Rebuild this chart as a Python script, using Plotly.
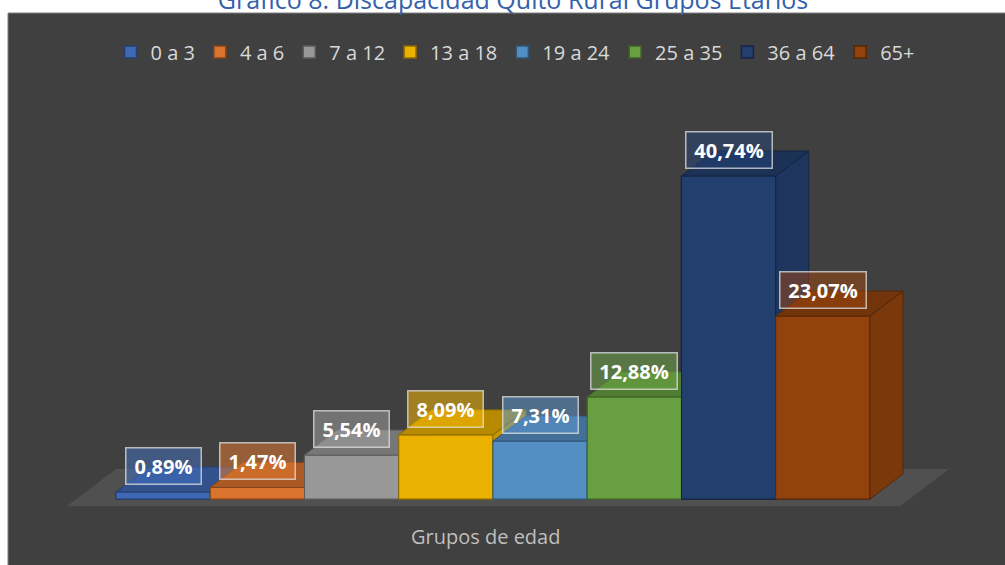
import plotly.graph_objects as go

# ---- data ----
categories = ["0 a 3", "4 a 6", "7 a 12", "13 a 18", "19 a 24", "25 a 35", "36 a 64", "65+"]
values = [0.89, 1.47, 5.54, 8.09, 7.31, 12.88, 40.74, 23.07]
label_texts = ["0,89%", "1,47%", "5,54%", "8,09%", "7,31%", "12,88%", "40,74%", "23,07%"]

# ---- styles ----
base_rgb = [(68, 114, 196), (237, 125, 49), (165, 165, 165), (255, 192, 0),
            (91, 155, 213), (112, 173, 71), (38, 68, 120), (158, 72, 14)]


def shade(rgb, k):
    return "rgb(%d,%d,%d)" % tuple(max(0, min(255, round(c * k))) for c in rgb)


def rgba(rgb, a):
    return "rgba(%d,%d,%d,%.2f)" % (rgb[0], rgb[1], rgb[2], a)


W, H = 1005, 565
BG = "#404040"
DX, DY = 0.35, 3.15          # oblique depth offset (x units, y units)
XR = [-1.731, 8.933]
YR = [-8.32, 62.93]

fig = go.Figure()

# floor (decorative)
t0, t1, ext = -0.28, 1.2, 0.42
fx0, fx1 = -0.5 - ext, len(values) - 0.5 + ext
floor_path = "M{},{} L{},{} L{},{} L{},{} Z".format(
    fx0 + t0 * DX, t0 * DY, fx1 + t0 * DX, t0 * DY,
    fx1 + t1 * DX, t1 * DY, fx0 + t1 * DX, t1 * DY)

# front faces as bars (provide legend)
for i, (cat, v) in enumerate(zip(categories, values)):
    fig.add_trace(go.Bar(
        x=[i], y=[v], width=1, name=cat,
        marker=dict(color=shade(base_rgb[i], 0.92), line=dict(color=shade(base_rgb[i], 0.55), width=1.5)),
        hoverinfo="skip"))

# 3D faces drawn in painter order
for i, v in enumerate(values):
    L, R = i - 0.5, i + 0.5
    edge = shade(base_rgb[i], 0.55)
    faces = [
        ([L, R, R, L, L], [0, 0, v, v, 0], shade(base_rgb[i], 0.92)),
        ([R, R + DX, R + DX, R, R], [0, DY, v + DY, v, 0], shade(base_rgb[i], 0.78)),
        ([L, R, R + DX, L + DX, L], [v, v, v + DY, v + DY, v], shade(base_rgb[i], 0.72)),
    ]
    for xs, ys, col in faces:
        fig.add_trace(go.Scatter(
            x=xs, y=ys, mode="lines", fill="toself", fillcolor=col,
            line=dict(color=edge, width=1), showlegend=False, hoverinfo="skip"))

# data labels
char_w = {",": 5.8, "%": 18.0}
for i, (v, txt) in enumerate(zip(values, label_texts)):
    tw = sum(char_w.get(c, 11.4) for c in txt)
    fig.add_annotation(
        x=i, y=v, xref="x", yref="y", yshift=26, showarrow=False,
        xanchor="center", yanchor="middle",
        text="<b>%s</b>" % txt, width=round(tw + 8),
        font=dict(family="Open Sans", size=20, color="white"),
        bgcolor=rgba(base_rgb[i], 0.5), bordercolor="rgba(225,225,225,0.75)",
        borderwidth=1.5, borderpad=4)

# axis title
fig.add_annotation(
    x=485 / W, y=1 - 536 / H, xref="paper", yref="paper", showarrow=False,
    xanchor="center", yanchor="middle",
    text="Grupos de edad", font=dict(family="Open Sans", size=20, color="#BFBFBF"))

fig.update_layout(
    width=W, height=H,
    margin=dict(l=0, r=0, t=0, b=0),
    paper_bgcolor="white", plot_bgcolor="rgba(0,0,0,0)",
    barmode="overlay",
    title=dict(text="Gráfico 8. Discapacidad Quito Rural Grupos Etarios",
               x=513 / W, xanchor="center", y=1.0, yanchor="middle", yref="container",
               font=dict(family="Open Sans", size=25, color="#3461AB")),
    xaxis=dict(range=XR, visible=False, fixedrange=True),
    yaxis=dict(range=YR, visible=False, fixedrange=True),
    legend=dict(orientation="h", x=515 / W, xanchor="center", y=1 - 52 / H, yanchor="middle",
                font=dict(family="Open Sans", size=20, color="#D9D9D9"),
                bgcolor="rgba(0,0,0,0)", itemwidth=30, traceorder="normal"),
    shapes=[
        dict(type="rect", xref="paper", yref="paper", x0=8 / W, x1=1.01, y0=-0.01, y1=1 - 13 / H,
             fillcolor=BG, line=dict(color="#7F7F7F", width=1), layer="below"),
        dict(type="path", xref="x", yref="y", path=floor_path,
             fillcolor="#505050", line=dict(width=0), layer="below"),
    ],
    showlegend=True,
)

fig.write_html(
    "out.html",
    config={"displayModeBar": False},
    post_script="document.body.style.margin='0';document.body.style.overflow='hidden';")
